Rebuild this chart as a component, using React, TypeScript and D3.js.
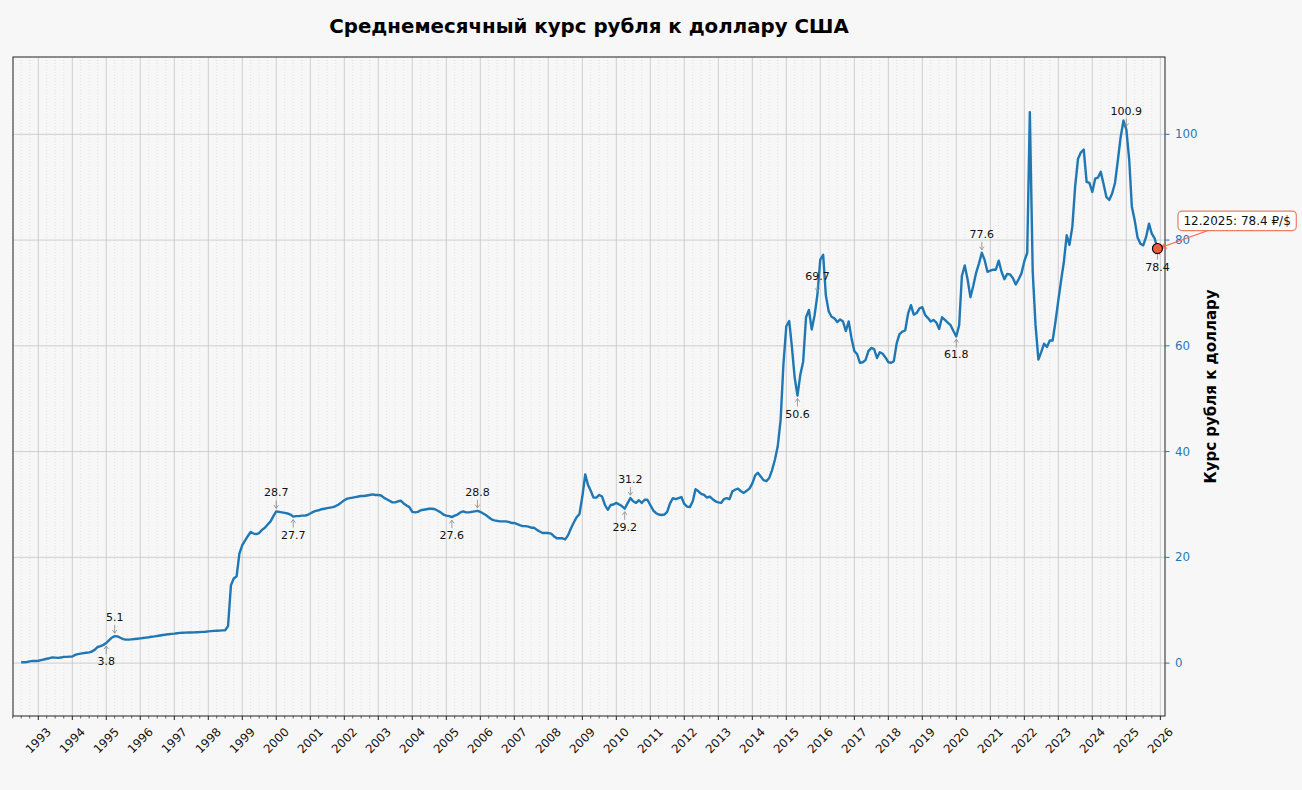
import { useEffect, useRef } from "react";
import * as d3 from "d3";

// monthly averages, RUB per USD (pre-1998 values in redenominated rubles)
const firstYear = 1992;
const firstMonth = 6; // July
const y1992 = [0.16, 0.17, 0.21, 0.34, 0.42, 0.41];
const y1993 = [0.44, 0.57, 0.68, 0.82, 0.93, 1.07, 1.03, 0.99, 1.05, 1.19, 1.19, 1.23];
const y1994 = [1.25, 1.55, 1.7, 1.8, 1.88, 1.96, 2.03, 2.2, 2.55, 3.05, 3.2, 3.45];
const y1995 = [3.8, 4.35, 4.8, 5.1, 5.05, 4.8, 4.55, 4.45, 4.45, 4.5, 4.55, 4.61];
const y1996 = [4.68, 4.76, 4.83, 4.9, 4.98, 5.05, 5.13, 5.23, 5.32, 5.4, 5.47, 5.53];
const y1997 = [5.58, 5.65, 5.71, 5.75, 5.77, 5.78, 5.79, 5.81, 5.84, 5.87, 5.9, 5.94];
const y1998 = [6.0, 6.05, 6.09, 6.12, 6.14, 6.19, 6.22, 7.0, 14.7, 16.0, 16.4, 20.7];
const y1999 = [22.3, 23.2, 24.0, 24.8, 24.5, 24.4, 24.6, 25.2, 25.6, 26.2, 26.8, 27.8];
const y2000 = [28.7, 28.6, 28.5, 28.4, 28.3, 28.1, 27.7, 27.8, 27.8, 27.9, 27.9, 28.0];
const y2001 = [28.3, 28.6, 28.8, 28.9, 29.1, 29.2, 29.3, 29.4, 29.5, 29.7, 30.0, 30.4];
const y2002 = [30.8, 31.1, 31.2, 31.3, 31.4, 31.5, 31.6, 31.6, 31.7, 31.8, 31.9, 31.8];
const y2003 = [31.8, 31.7, 31.3, 31.0, 30.7, 30.4, 30.4, 30.6, 30.7, 30.2, 29.8, 29.5];
const y2004 = [28.6, 28.5, 28.6, 28.9, 29.0, 29.1, 29.2, 29.2, 29.1, 28.8, 28.5, 28.1];
const y2005 = [27.9, 27.8, 27.6, 27.9, 28.1, 28.5, 28.7, 28.5, 28.5, 28.6, 28.7, 28.8];
const y2006 = [28.6, 28.3, 28.0, 27.6, 27.2, 27.0, 26.9, 26.8, 26.8, 26.8, 26.7, 26.5];
const y2007 = [26.5, 26.3, 26.1, 25.9, 25.9, 25.8, 25.6, 25.6, 25.2, 24.9, 24.6, 24.6];
const y2008 = [24.6, 24.5, 24.0, 23.6, 23.6, 23.6, 23.4, 24.2, 25.5, 26.6, 27.6, 28.2];
const y2009 = [31.5, 35.7, 33.8, 32.6, 31.3, 31.3, 31.8, 31.5, 29.9, 29.0, 29.9, 30.0];
const y2010 = [30.3, 30.0, 29.7, 29.2, 30.2, 31.2, 30.6, 30.3, 30.8, 30.3, 30.9, 30.9];
const y2011 = [29.9, 28.9, 28.4, 28.1, 28.0, 28.1, 28.6, 30.2, 31.2, 31.0, 31.2, 31.4];
const y2012 = [30.1, 29.6, 29.5, 30.6, 32.9, 32.5, 32.0, 31.8, 31.3, 31.5, 31.0, 30.6];
const y2013 = [30.4, 30.3, 31.0, 31.2, 31.0, 32.5, 32.8, 33.0, 32.5, 32.2, 32.6, 33.0];
const y2014 = [34.0, 35.5, 36.0, 35.3, 34.6, 34.4, 35.0, 36.5, 38.5, 41.0, 46.0, 56.5];
const y2015 = [63.7, 64.7, 60.0, 54.0, 50.6, 54.6, 57.0, 65.4, 66.8, 63.1, 65.8, 69.7];
const y2016 = [76.3, 77.2, 69.5, 66.5, 65.5, 65.2, 64.5, 65.0, 64.6, 62.8, 64.6, 61.5];
const y2017 = [59.0, 58.4, 56.8, 56.9, 57.3, 59.0, 59.6, 59.4, 57.7, 58.8, 58.5, 57.8];
const y2018 = [56.9, 56.8, 57.1, 60.5, 62.2, 62.7, 62.9, 66.1, 67.7, 65.9, 66.2, 67.1];
const y2019 = [67.3, 65.8, 65.3, 64.6, 64.9, 64.4, 63.2, 65.4, 64.9, 64.4, 63.9, 62.8];
const y2020 = [61.8, 63.9, 73.2, 75.2, 72.6, 69.2, 71.3, 73.8, 75.6, 77.6, 76.2, 74.0];
const y2021 = [74.2, 74.4, 74.4, 76.1, 74.0, 72.6, 73.6, 73.5, 72.8, 71.6, 72.6, 73.7];
const y2022 = [76.0, 77.6, 104.2, 74.0, 64.0, 57.4, 58.8, 60.4, 59.8, 61.0, 61.0, 64.5];
const y2023 = [68.6, 72.5, 75.8, 80.9, 79.1, 82.6, 90.2, 95.4, 96.6, 97.1, 91.0, 90.8];
const y2024 = [89.1, 91.6, 91.8, 92.9, 90.6, 88.1, 87.6, 88.8, 90.8, 95.0, 99.5, 102.6];
const y2025 = [100.9, 95.1, 86.3, 83.7, 80.5, 79.3, 79.0, 80.6, 83.1, 81.2, 80.3, 78.4];

const yearly = [
    y1992, y1993, y1994, y1995, y1996, y1997, y1998, y1999, y2000, y2001, y2002, y2003,
    y2004, y2005, y2006, y2007, y2008, y2009, y2010, y2011, y2012, y2013, y2014, y2015,
    y2016, y2017, y2018, y2019, y2020, y2021, y2022, y2023, y2024, y2025,
];

const title = "Среднемесячный курс рубля к доллару США";
const yLabel = "Курс рубля к доллару";
const yTicks = [0, 20, 40, 60, 80, 100];
const tickYears = d3.range(1993, 2027);
const annotateYears = [1995, 2000, 2005, 2010, 2015, 2020, 2025];

const W = 1302, H = 790;
const margin = { top: 57, right: 137, bottom: 74, left: 13 };
const bg = "#f7f7f7";
const blue = "#1f77b4";
const font = "DejaVu Sans, sans-serif";

interface Point { date: Date; value: number; }

function buildSeries(): Point[] {
    const out: Point[] = [];
    yearly.forEach((vals, i) => {
        const year = firstYear + i;
        const m0 = i === 0 ? firstMonth : 0;
        vals.forEach((v, j) => out.push({ date: new Date(year, m0 + j, 1), value: v }));
    });
    return out;
}

function App() {
    const ref = useRef<SVGSVGElement>(null);

    useEffect(() => {
        const data = buildSeries();
        const svg = d3.select(ref.current);
        svg.selectAll("*").remove();

        const x0 = margin.left, x1 = W - margin.right;
        const yTop = margin.top, yBot = H - margin.bottom;

        const x = d3.scaleTime()
            .domain([new Date(1992, 3, 4), new Date(2026, 1, 20)])
            .range([x0, x1]);
        const maxV = d3.max(data, d => d.value)!;
        const y = d3.scaleLinear().domain([-10, maxV * 1.1]).range([yBot, yTop]);

        svg.append("rect").attr("width", W).attr("height", H).attr("fill", bg);

        // minor grid (quarters)
        const quarters = d3.timeMonth.every(3)!.range(new Date(1992, 3, 1), new Date(2026, 1, 20))
            .filter(d => d.getMonth() !== 0);
        const g = svg.append("g");
        g.selectAll(".minor")
            .data(quarters)
            .enter()
            .append("line")
            .attr("x1", d => x(d)).attr("x2", d => x(d))
            .attr("y1", yTop).attr("y2", yBot)
            .attr("stroke", "#d4d4d4")
            .attr("stroke-width", 0.6)
            .attr("stroke-dasharray", "1,2");

        // major grid
        const yearDates = tickYears.map(yr => new Date(yr, 0, 1));
        g.selectAll(".vmajor")
            .data(yearDates)
            .enter()
            .append("line")
            .attr("x1", d => x(d)).attr("x2", d => x(d))
            .attr("y1", yTop).attr("y2", yBot)
            .attr("stroke", "#c4c4c4")
            .attr("stroke-width", 0.8);
        g.selectAll(".hmajor")
            .data(yTicks)
            .enter()
            .append("line")
            .attr("x1", x0).attr("x2", x1)
            .attr("y1", d => y(d)).attr("y2", d => y(d))
            .attr("stroke", "#c4c4c4")
            .attr("stroke-width", 0.8);

        // series
        const line = d3.line<Point>().x(d => x(d.date)).y(d => y(d.value));
        svg.append("path")
            .datum(data)
            .attr("d", line)
            .attr("fill", "none")
            .attr("stroke", blue)
            .attr("stroke-width", 2.4)
            .attr("stroke-linejoin", "round");

        // spines
        svg.append("rect")
            .attr("x", x0).attr("y", yTop)
            .attr("width", x1 - x0).attr("height", yBot - yTop)
            .attr("fill", "none")
            .attr("stroke", "#222")
            .attr("stroke-width", 1);

        // x ticks
        const xt = svg.append("g");
        xt.selectAll(".tmaj")
            .data(yearDates)
            .enter()
            .append("line")
            .attr("x1", d => x(d)).attr("x2", d => x(d))
            .attr("y1", yBot).attr("y2", yBot + 4)
            .attr("stroke", "#222").attr("stroke-width", 1);
        xt.selectAll(".tmin")
            .data(quarters)
            .enter()
            .append("line")
            .attr("x1", d => x(d)).attr("x2", d => x(d))
            .attr("y1", yBot).attr("y2", yBot + 2.5)
            .attr("stroke", "#222").attr("stroke-width", 0.7);
        xt.selectAll(".tlab")
            .data(yearDates)
            .enter()
            .append("text")
            .attr("transform", d => `translate(${x(d)},${yBot + 24.5}) rotate(-45)`)
            .attr("text-anchor", "middle")
            .attr("dominant-baseline", "central")
            .attr("font-family", font)
            .attr("font-size", 11.8)
            .attr("fill", "#111")
            .text(d => d.getFullYear());

        // y ticks on the right
        const yt = svg.append("g");
        yt.selectAll(".ytick")
            .data(yTicks)
            .enter()
            .append("line")
            .attr("x1", x1).attr("x2", x1 + 4.5)
            .attr("y1", d => y(d)).attr("y2", d => y(d))
            .attr("stroke", blue).attr("stroke-width", 1);
        yt.selectAll(".ylab")
            .data(yTicks)
            .enter()
            .append("text")
            .attr("x", x1 + 10)
            .attr("y", d => y(d))
            .attr("dominant-baseline", "central")
            .attr("font-family", font)
            .attr("font-size", 11.8)
            .attr("fill", blue)
            .text(d => d);

        svg.append("text")
            .attr("transform", `translate(1211,${(yTop + yBot) / 2}) rotate(-90)`)
            .attr("text-anchor", "middle")
            .attr("dominant-baseline", "central")
            .attr("font-family", font)
            .attr("font-size", 15)
            .attr("font-weight", "bold")
            .attr("fill", "#000")
            .text(yLabel);

        svg.append("text")
            .attr("x", (x0 + x1) / 2)
            .attr("y", 32.5)
            .attr("text-anchor", "middle")
            .attr("font-family", font)
            .attr("font-size", 19.8)
            .attr("font-weight", "bold")
            .attr("fill", "#000")
            .text(title);

        // yearly min / max annotations
        const notes: { p: Point; above: boolean }[] = [];
        annotateYears.forEach(yr => {
            const pts = data.filter(d => d.date.getFullYear() === yr);
            notes.push({ p: d3.greatest(pts, d => d.value)!, above: true });
            notes.push({ p: d3.least(pts, d => d.value)!, above: false });
        });
        const an = svg.append("g");
        notes.forEach(({ p, above }) => {
            const px = x(p.date), py = y(p.value);
            const s = above ? -1 : 1;
            const tip = py + s * 3;
            const tail = py + s * 11;
            an.append("line")
                .attr("x1", px).attr("x2", px)
                .attr("y1", tail).attr("y2", tip)
                .attr("stroke", "#8a8a8a").attr("stroke-width", 0.8);
            an.append("path")
                .attr("d", `M${px - 2.3},${tip + s * 3.2}L${px},${tip}L${px + 2.3},${tip + s * 3.2}`)
                .attr("fill", "none")
                .attr("stroke", "#8a8a8a").attr("stroke-width", 0.8);
            an.append("text")
                .attr("x", px)
                .attr("y", py + s * 18.5)
                .attr("text-anchor", "middle")
                .attr("dominant-baseline", "central")
                .attr("font-family", font)
                .attr("font-size", 11)
                .attr("fill", "#111")
                .text(p.value.toFixed(1));
        });

        // last point callout
        const last = data[data.length - 1];
        const lx = x(last.date), ly = y(last.value);
        const mm = String(last.date.getMonth() + 1).padStart(2, "0");
        const label = `${mm}.${last.date.getFullYear()}: ${last.value.toFixed(1)} ₽/$`;
        const cb = svg.append("g");
        const bx = lx + 20.5, bTop = ly - 37.5, bh = 19.5;
        const txt = cb.append("text")
            .attr("x", bx + 5.5)
            .attr("y", bTop + bh / 2)
            .attr("dominant-baseline", "central")
            .attr("font-family", font)
            .attr("font-size", 12)
            .attr("fill", "#111")
            .text(label);
        const tw = (txt.node() as SVGTextElement).getComputedTextLength();
        cb.insert("rect", "text")
            .attr("x", bx).attr("y", bTop)
            .attr("width", tw + 11).attr("height", bh)
            .attr("rx", 4)
            .attr("fill", "#fff")
            .attr("stroke", "#f07a68")
            .attr("stroke-width", 1.2);
        const ax0 = bx + 30, ay0 = bTop + bh;
        const ax1 = lx + 3.5, ay1 = ly - 1;
        const ang = Math.atan2(ay0 - ay1, ax0 - ax1);
        const hl = 6, spread = 0.45;
        cb.append("line")
            .attr("x1", ax0).attr("y1", ay0).attr("x2", ax1).attr("y2", ay1)
            .attr("stroke", "tomato").attr("stroke-width", 1.1);
        cb.append("path")
            .attr("d", `M${ax1 + hl * Math.cos(ang + spread)},${ay1 + hl * Math.sin(ang + spread)}L${ax1},${ay1}L${ax1 + hl * Math.cos(ang - spread)},${ay1 + hl * Math.sin(ang - spread)}`)
            .attr("fill", "none")
            .attr("stroke", "tomato").attr("stroke-width", 1.1);
        svg.append("circle")
            .attr("cx", lx).attr("cy", ly).attr("r", 5)
            .attr("fill", "#f25a3c")
            .attr("stroke", "#000")
            .attr("stroke-width", 1.1);
    }, []);

    return (
        <svg
            ref={ref}
            width={W}
            height={H}
            style={{ position: "absolute", left: 0, top: 0, display: "block" }}
        ></svg>
    );
}

export default App;
